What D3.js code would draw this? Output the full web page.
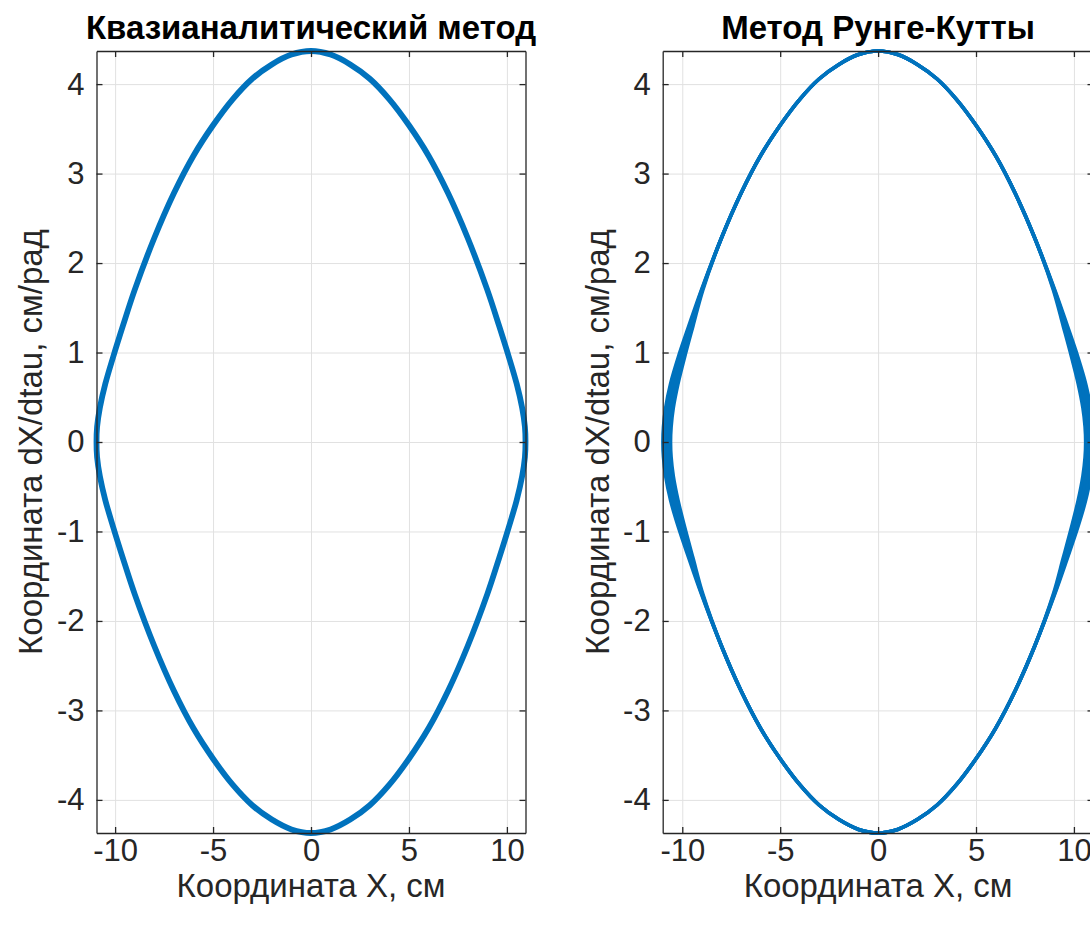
<!DOCTYPE html>
<html>
<head>
<meta charset="utf-8">
<script src="https://cdn.jsdelivr.net/npm/d3@7"></script>
<style>
  html, body { margin: 0; padding: 0; background: #fff; overflow: hidden; }
  svg { display: block; }
</style>
</head>
<body>
<svg id="chart" width="1090" height="933"></svg>
<script>
// Axis ticks
const xTicks = [-10, -5, 0, 5, 10];
const yTicks = [-4, -3, -2, -1, 0, 1, 2, 3, 4];

// Phase trajectory, quasi-analytic solution (clockwise from the top)
const quasiX = [0, 1, 2, 3, 4, 5, 6, 7, 8, 9, 9.6, 10.1, 10.5, 10.78, 10.92, 10.95,
  10.92, 10.78, 10.5, 10.1, 9.6, 9, 8, 7, 6, 5, 4, 3, 2, 1, 0,
  -1, -2, -3, -4, -5, -6, -7, -8, -9, -9.6, -10.1, -10.5, -10.78, -10.92, -10.95,
  -10.92, -10.78, -10.5, -10.1, -9.6, -9, -8, -7, -6, -5, -4, -3, -2, -1];
const quasiY = [4.37, 4.33, 4.22, 4.06, 3.83, 3.54, 3.2, 2.78, 2.28, 1.7, 1.3, 0.95, 0.65, 0.38, 0.17, 0,
  -0.17, -0.38, -0.65, -0.95, -1.3, -1.7, -2.28, -2.78, -3.2, -3.54, -3.83, -4.06, -4.22, -4.33, -4.37,
  -4.33, -4.22, -4.06, -3.83, -3.54, -3.2, -2.78, -2.28, -1.7, -1.3, -0.95, -0.65, -0.38, -0.17, 0,
  0.17, 0.38, 0.65, 0.95, 1.3, 1.7, 2.28, 2.78, 3.2, 3.54, 3.83, 4.06, 4.22, 4.33];

// Runge-Kutta trajectory: successive orbits drift apart near the turning points
const rkY = [4.37, 4.33, 4.22, 4.06, 3.83, 3.54, 3.2, 2.78, 2.28, 1.7, 1.3, 0.95, 0.65, 0.38, 0.17, 0,
  -0.17, -0.38, -0.65, -0.95, -1.3, -1.7, -2.28, -2.78, -3.2, -3.54, -3.83, -4.06, -4.22, -4.33, -4.37,
  -4.33, -4.22, -4.06, -3.83, -3.54, -3.2, -2.78, -2.28, -1.7, -1.3, -0.95, -0.65, -0.38, -0.17, 0,
  0.17, 0.38, 0.65, 0.95, 1.3, 1.7, 2.28, 2.78, 3.2, 3.54, 3.83, 4.06, 4.22, 4.33];
const rkOrbit1X = [0, 1, 2, 3, 4, 5, 6, 7, 8, 9.02, 9.66, 10.2, 10.6, 10.85, 10.96, 10.99,
  10.96, 10.85, 10.6, 10.2, 9.66, 9.02, 8, 7, 6, 5, 4, 3, 2, 1, 0,
  -1, -2, -3, -4, -5, -6, -7, -8, -9.02, -9.66, -10.2, -10.6, -10.85, -10.96, -10.99,
  -10.96, -10.85, -10.6, -10.2, -9.66, -9.02, -8, -7, -6, -5, -4, -3, -2, -1];
const rkOrbit2X = [0, 1, 2, 3, 4, 5, 6, 7, 8, 9.0, 9.6, 10.1, 10.48, 10.72, 10.83, 10.86,
  10.83, 10.72, 10.48, 10.1, 9.6, 9.0, 8, 7, 6, 5, 4, 3, 2, 1, 0,
  -1, -2, -3, -4, -5, -6, -7, -8, -9.0, -9.6, -10.1, -10.48, -10.72, -10.83, -10.86,
  -10.83, -10.72, -10.48, -10.1, -9.6, -9.0, -8, -7, -6, -5, -4, -3, -2, -1];
const rkOrbit3X = [0, 1, 2, 3, 4, 5, 6, 7, 8, 8.98, 9.53, 10.0, 10.35, 10.59, 10.7, 10.73,
  10.7, 10.59, 10.35, 10.0, 9.53, 8.98, 8, 7, 6, 5, 4, 3, 2, 1, 0,
  -1, -2, -3, -4, -5, -6, -7, -8, -8.98, -9.53, -10.0, -10.35, -10.59, -10.7, -10.73,
  -10.7, -10.59, -10.35, -10.0, -9.53, -8.98, -8, -7, -6, -5, -4, -3, -2, -1];
const rkOrbit4X = [0, 1, 2, 3, 4, 5, 6, 7, 8, 8.95, 9.45, 9.88, 10.22, 10.46, 10.57, 10.6,
  10.57, 10.46, 10.22, 9.88, 9.45, 8.95, 8, 7, 6, 5, 4, 3, 2, 1, 0,
  -1, -2, -3, -4, -5, -6, -7, -8, -8.95, -9.45, -9.88, -10.22, -10.46, -10.57, -10.6,
  -10.57, -10.46, -10.22, -9.88, -9.45, -8.95, -8, -7, -6, -5, -4, -3, -2, -1];

const titles = ["Квазианалитический метод", "Метод Рунге-Кутты"];
const xLabel = "Координата X, см";
const yLabel = "Координата dX/dtau, см/рад";

const svg = d3.select("#chart");
const FONT = '"Liberation Sans", Arial, sans-serif';
const LINE = "#0072BD";
const INK = "#262626";

function panel(opts) {
  const { left, right, top, bottom, xDomain, yDomain, title, orbits, lineWidth, ylabX } = opts;
  const w = right - left, h = bottom - top;
  const x = d3.scaleLinear().domain(xDomain).range([left, right]);
  const y = d3.scaleLinear().domain(yDomain).range([bottom, top]);
  const g = svg.append("g");

  // grid
  g.append("g").attr("transform", `translate(0,${bottom})`)
    .call(d3.axisBottom(x).tickValues(xTicks).tickSize(-h).tickFormat(""))
    .call(s => s.select(".domain").remove())
    .call(s => s.selectAll("line").attr("stroke", "#e1e1e1").attr("stroke-width", 1));
  g.append("g").attr("transform", `translate(${left},0)`)
    .call(d3.axisLeft(y).tickValues(yTicks).tickSize(-w).tickFormat(""))
    .call(s => s.select(".domain").remove())
    .call(s => s.selectAll("line").attr("stroke", "#e1e1e1").attr("stroke-width", 1));

  // trajectories
  const line = d3.line().x(d => x(d[0])).y(d => y(d[1])).curve(d3.curveCatmullRomClosed.alpha(0.5));
  orbits.forEach(o => {
    const pts = o.xs.map((v, i) => [v, o.ys[i]]);
    g.append("path").attr("d", line(pts))
      .attr("fill", "none").attr("stroke", LINE)
      .attr("stroke-width", lineWidth).attr("stroke-linejoin", "round");
  });

  // axes with inward ticks on all four sides
  const fmt = d => (d < 0 ? "-" + Math.abs(d) : String(d));
  const styleAxis = s => {
    s.select(".domain").attr("stroke", INK).attr("stroke-width", 1.3);
    s.selectAll(".tick line").attr("stroke", INK).attr("stroke-width", 1.3);
    s.selectAll(".tick text").attr("font-family", FONT).attr("font-size", 31).attr("fill", INK);
  };
  g.append("g").attr("transform", `translate(0,${bottom})`)
    .call(d3.axisBottom(x).tickValues(xTicks).tickSizeInner(-6).tickSizeOuter(0).tickPadding(6).tickFormat(fmt))
    .call(styleAxis);
  g.append("g").attr("transform", `translate(0,${top})`)
    .call(d3.axisTop(x).tickValues(xTicks).tickSizeInner(-6).tickSizeOuter(0).tickFormat(""))
    .call(styleAxis);
  g.append("g").attr("transform", `translate(${left},0)`)
    .call(d3.axisLeft(y).tickValues(yTicks).tickSizeInner(-6).tickSizeOuter(0).tickPadding(12).tickFormat(fmt))
    .call(styleAxis);
  g.append("g").attr("transform", `translate(${right},0)`)
    .call(d3.axisRight(y).tickValues(yTicks).tickSizeInner(-6).tickSizeOuter(0).tickFormat(""))
    .call(styleAxis);

  // title and labels
  g.append("text").attr("x", (left + right) / 2).attr("y", top - 12)
    .attr("text-anchor", "middle").attr("font-family", FONT).attr("font-weight", "bold")
    .attr("font-size", 33).attr("fill", "#000").text(title);
  g.append("text").attr("x", (left + right) / 2).attr("y", bottom + 64)
    .attr("text-anchor", "middle").attr("font-family", FONT)
    .attr("font-size", 33).attr("fill", INK).text(xLabel);
  g.append("text").attr("transform", `translate(${ylabX},${(top + bottom) / 2}) rotate(-90)`)
    .attr("text-anchor", "middle").attr("font-family", FONT)
    .attr("font-size", 33).attr("fill", INK).text(yLabel);
}

panel({
  left: 96.5, right: 525.5, top: 51, bottom: 833,
  xDomain: [-10.95, 10.95], yDomain: [-4.37, 4.37],
  title: titles[0], lineWidth: 5.8, ylabX: 42,
  orbits: [{ xs: quasiX, ys: quasiY }]
});
panel({
  left: 662.7, right: 1093.5, top: 51, bottom: 833,
  xDomain: [-11.0, 11.0], yDomain: [-4.37, 4.37],
  title: titles[1], lineWidth: 3.6, ylabX: 609,
  orbits: [{ xs: rkOrbit1X, ys: rkY }, { xs: rkOrbit2X, ys: rkY },
           { xs: rkOrbit3X, ys: rkY }, { xs: rkOrbit4X, ys: rkY }]
});
</script>
</body>
</html>
